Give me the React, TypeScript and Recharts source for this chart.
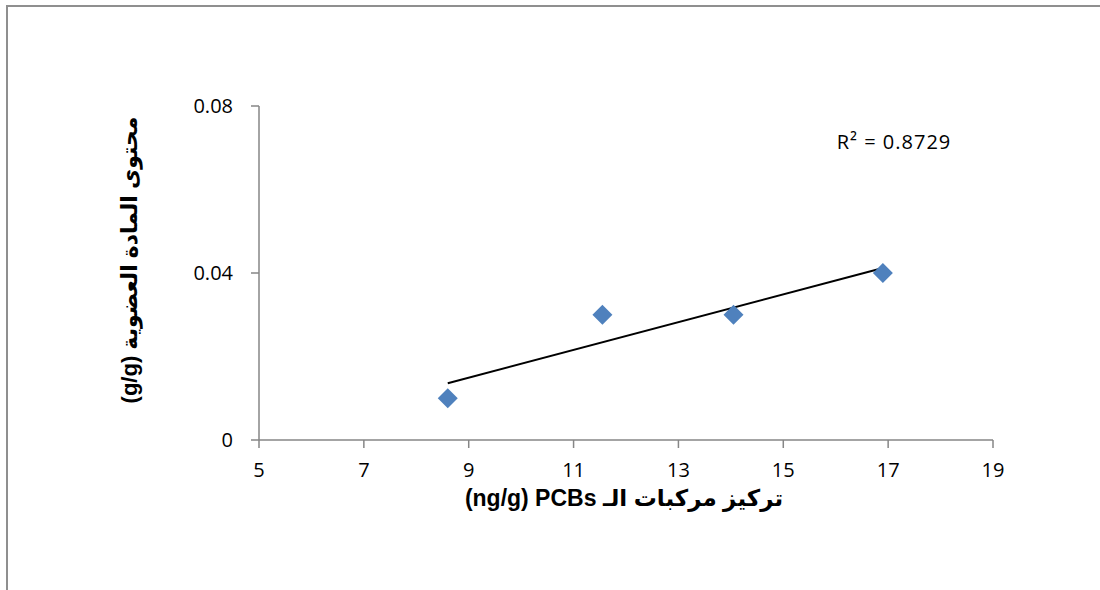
import React from 'react'
import { ScatterChart, Scatter, XAxis, YAxis, ReferenceDot } from 'recharts'

// measured points (ng/g PCBs vs organic matter g/g)
const pcbValues = [8.6, 11.55, 14.05, 16.9]
const organicValues = [0.01, 0.03, 0.03, 0.04]

// trendline ends
const trendX = [8.6, 16.9]
const trendY = [0.0136, 0.0412]

const xTicks = [5, 7, 9, 11, 13, 15, 17, 19]
const yTicks = [0, 0.04, 0.08]

const rSquaredText = 'R² = 0.8729'
// written in visual order so the latin part sits on the left like the original
const xTitle = '(ng/g) PCBs تركيز مركبات الـ'
const yTitle = '(g/g) محتوى المادة العضوية'

const points = pcbValues.map((x, i) => ({ x, y: organicValues[i] }))
const trend = trendX.map((x, i) => ({ x, y: trendY[i] }))

const axisColor = '#868686'
const tickFont = "'Open Sans', 'Noto Sans', sans-serif"
const titleFont = "'Liberation Sans', 'DejaVu Sans', sans-serif"

const Diamond = (props: any) => {
  const { cx, cy } = props
  const r = 10
  return (
    <polygon
      points={`${cx},${cy - r} ${cx + r},${cy} ${cx},${cy + r} ${cx - r},${cy}`}
      fill="#4f81bd"
    />
  )
}

const App = () => {
  return (
    <div style={{ position: 'absolute', left: 0, top: 0, width: 1100, height: 590, background: '#fff', overflow: 'hidden' }}>
      <div
        style={{
          position: 'absolute',
          left: 6,
          top: 5,
          width: 1100,
          height: 600,
          borderTop: '2px solid #8f8f8f',
          borderLeft: '2px solid #8f8f8f',
        }}
      />
      <div style={{ position: 'absolute', left: 0, top: 0 }}>
        <ScatterChart width={1100} height={590} margin={{ top: 106, right: 107, bottom: 120, left: 199 }}>
          <XAxis
            type="number"
            dataKey="x"
            domain={[5, 19]}
            ticks={xTicks}
            allowDataOverflow
            height={30}
            stroke={axisColor}
            strokeWidth={1.5}
            tickSize={8}
            tickMargin={15}
            tick={{ fill: '#000', fontSize: 20, fontFamily: tickFont }}
            label={{
              content: (p: any) => {
                const vb = p.viewBox
                return (
                  <text
                    x={vb.x + vb.width / 2 - 2}
                    y={506}
                    textAnchor="middle"
                    fontFamily={titleFont}
                    fontWeight="bold"
                    fontSize={23}
                    fill="#000"
                  >
                    {xTitle}
                  </text>
                )
              },
            }}
          />
          <YAxis
            type="number"
            dataKey="y"
            domain={[0, 0.08]}
            ticks={yTicks}
            allowDataOverflow
            width={60}
            stroke={axisColor}
            strokeWidth={1.5}
            tickSize={8}
            tickMargin={18}
            tick={{ fill: '#000', fontSize: 20, fontFamily: tickFont }}
            label={{
              content: () => (
                <text
                  x={0}
                  y={0}
                  transform="translate(137, 260) rotate(-90)"
                  textAnchor="middle"
                  fontFamily={titleFont}
                  fontWeight="bold"
                  fontSize={22}
                  fill="#000"
                >
                  {yTitle}
                </text>
              ),
            }}
          />
          <Scatter
            data={trend}
            line={{ stroke: '#000', strokeWidth: 2 }}
            shape={() => <g />}
            isAnimationActive={false}
          />
          <Scatter data={points} shape={<Diamond />} isAnimationActive={false} />
          <ReferenceDot
            x={16.02}
            y={0.0714}
            r={0}
            fill="none"
            stroke="none"
            label={{
              content: (p: any) => {
                const vb = p.viewBox
                return (
                  <text x={vb.x} y={vb.y + 7} fontFamily={tickFont} fontSize={20} letterSpacing={1} fill="#000">
                    {rSquaredText}
                  </text>
                )
              },
            }}
          />
        </ScatterChart>
      </div>
    </div>
  )
}

export default App
